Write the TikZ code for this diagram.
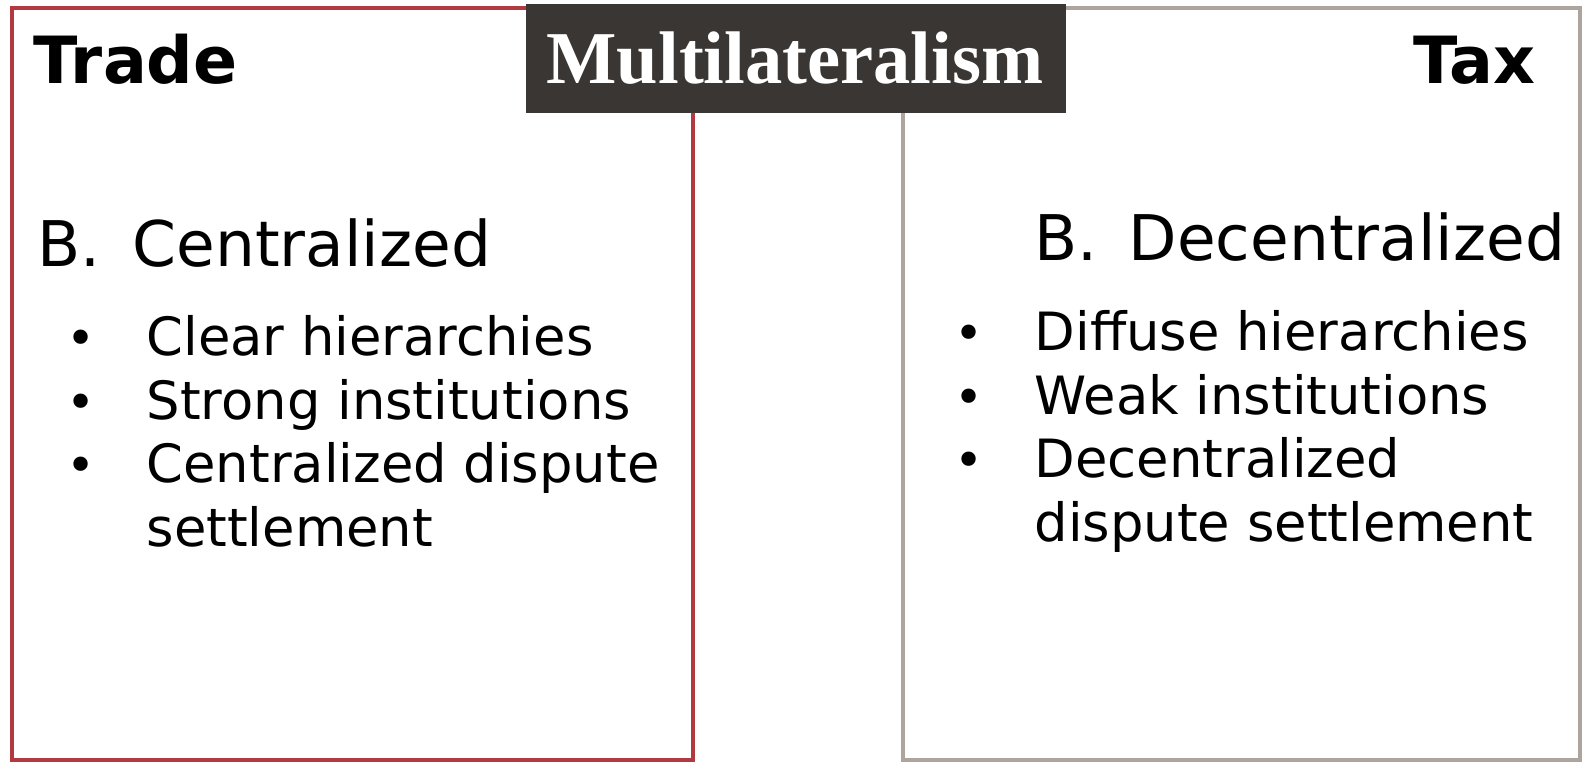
\documentclass[tikz,border=0pt]{standalone}
\usepackage{fontspec}
\usepackage{xcolor}
\usetikzlibrary{calc}
\usetikzlibrary{positioning}
\setmainfont{DejaVu Sans}
\newfontfamily\titlefont{Liberation Serif}
\definecolor{trade-red}{RGB}{176, 58, 63}
\definecolor{tax-grey}{RGB}{173, 165, 157}
\definecolor{banner-dark}{RGB}{58, 54, 51}
\tikzset{
  heading/.style={inner sep=0pt, font=\bfseries\fontsize{18.5}{21}\selectfont},
  kind/.style={inner sep=0pt, anchor=base west, font=\fontsize{17.9}{20}\selectfont},
  item/.style={inner sep=0pt, anchor=base west, font=\fontsize{15}{17}\selectfont},
  dot/.style={inner sep=0pt, anchor=base, font=\fontsize{14}{17}\selectfont},
}

\begin{document}
\begin{tikzpicture}[x=0.01cm, y=-0.01cm]
\useasboundingbox (0,0) rectangle (1582,763);
            \draw[draw=trade-red, line width=1.15pt] (12,8) rectangle (693,760);
\draw[draw=tax-grey, line width=1.15pt] (903,8) rectangle (1580,760);
\fill[banner-dark] (526,4) rectangle (1066,113);
\node[inner sep=0pt, anchor=base, text=white, font=\titlefont\bfseries\fontsize{21.2}{24}\selectfont] (banner) at (795,83) {Multilateralism};
\node[heading, anchor=base west] (trade) at (33,83) {Trade};
\node[heading, anchor=base east] (tax) at (1536,83) {Tax};
% trade side
\node[kind] (tradeB) at (37,266) {B.};
\node[kind] (tradeKind) at (132,266) {Centralized};
\node[dot] (td1) at (81,355) {\textbullet};
\node[item] (ti1) at (146,355) {Clear hierarchies};
\node[dot] (td2) at (81,419) {\textbullet};
\node[item] (ti2) at (146,419) {Strong institutions};
\node[dot] (td3) at (81,482) {\textbullet};
\node[item] (ti3) at (146,482) {Centralized dispute};
\node[item] (ti3b) at (146,546) {settlement};
% tax side
\node[kind] (taxB) at (1034,260) {B.};
\node[kind] (taxKind) at (1128,260) {Decentralized};
\node[dot] (xd1) at (969,350) {\textbullet};
\node[item] (xi1) at (1034,350) {Diffuse hierarchies};
\node[dot] (xd2) at (969,414) {\textbullet};
\node[item] (xi2) at (1034,414) {Weak institutions};
\node[dot] (xd3) at (969,477) {\textbullet};
\node[item] (xi3) at (1034,477) {Decentralized};
\node[item] (xi3b) at (1034,541) {dispute settlement};
        \end{tikzpicture}
\end{document}
